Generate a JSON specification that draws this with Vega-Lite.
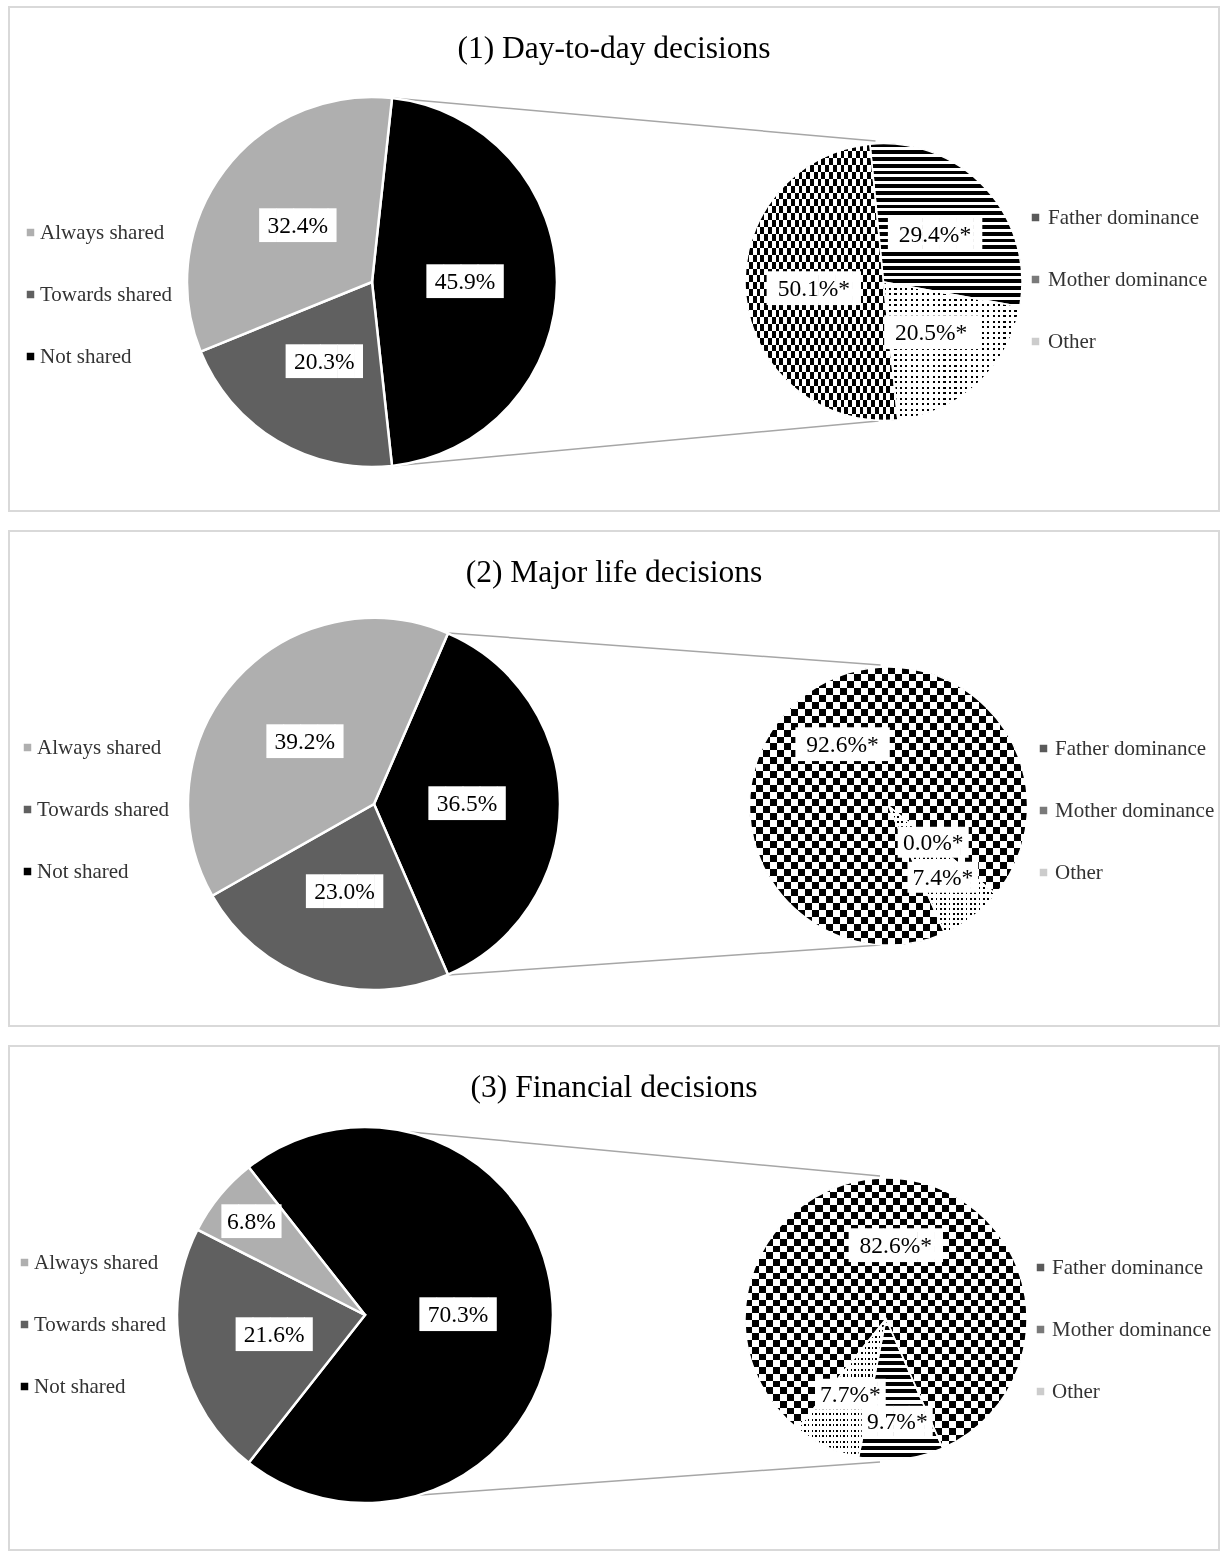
{
"$schema": "https://vega.github.io/schema/vega-lite/v6.json",
"background": "#ffffff",
"padding": {"left": 8, "top": 6, "right": 0, "bottom": 0},
"spacing": 18,
"config": {
 "view": {"stroke": "#d9d9d9", "strokeWidth": 2},
 "font": "Liberation Serif",
 "title": {"font": "Liberation Serif", "fontSize": 31.5, "fontWeight": "normal", "color": "#000000", "anchor": "middle", "frame": "group", "offset": -57, "baseline": "alphabetic"},
 "legend": {"labelFont": "Liberation Serif", "labelFontSize": 21, "labelColor": "#333333", "symbolType": "square", "symbolSize": 56, "symbolStrokeWidth": 0, "rowPadding": 40, "padding": 0, "labelOffset": 6, "labelLimit": 400},
 "style": {
  "c20V": {"color": {"gradient": "linear", "x1": 0, "y1": 0, "x2": 1, "y2": 0, "stops": [{"offset":0,"color":"#000"},{"offset":0.025,"color":"#000"},{"offset":0.025,"color":"#fff"},{"offset":0.05,"color":"#fff"},{"offset":0.05,"color":"#000"},{"offset":0.075,"color":"#000"},{"offset":0.075,"color":"#fff"},{"offset":0.1,"color":"#fff"},{"offset":0.1,"color":"#000"},{"offset":0.125,"color":"#000"},{"offset":0.125,"color":"#fff"},{"offset":0.15,"color":"#fff"},{"offset":0.15,"color":"#000"},{"offset":0.175,"color":"#000"},{"offset":0.175,"color":"#fff"},{"offset":0.2,"color":"#fff"},{"offset":0.2,"color":"#000"},{"offset":0.225,"color":"#000"},{"offset":0.225,"color":"#fff"},{"offset":0.25,"color":"#fff"},{"offset":0.25,"color":"#000"},{"offset":0.275,"color":"#000"},{"offset":0.275,"color":"#fff"},{"offset":0.3,"color":"#fff"},{"offset":0.3,"color":"#000"},{"offset":0.325,"color":"#000"},{"offset":0.325,"color":"#fff"},{"offset":0.35,"color":"#fff"},{"offset":0.35,"color":"#000"},{"offset":0.375,"color":"#000"},{"offset":0.375,"color":"#fff"},{"offset":0.4,"color":"#fff"},{"offset":0.4,"color":"#000"},{"offset":0.425,"color":"#000"},{"offset":0.425,"color":"#fff"},{"offset":0.45,"color":"#fff"},{"offset":0.45,"color":"#000"},{"offset":0.475,"color":"#000"},{"offset":0.475,"color":"#fff"},{"offset":0.5,"color":"#fff"},{"offset":0.5,"color":"#000"},{"offset":0.525,"color":"#000"},{"offset":0.525,"color":"#fff"},{"offset":0.55,"color":"#fff"},{"offset":0.55,"color":"#000"},{"offset":0.575,"color":"#000"},{"offset":0.575,"color":"#fff"},{"offset":0.6,"color":"#fff"},{"offset":0.6,"color":"#000"},{"offset":0.625,"color":"#000"},{"offset":0.625,"color":"#fff"},{"offset":0.65,"color":"#fff"},{"offset":0.65,"color":"#000"},{"offset":0.675,"color":"#000"},{"offset":0.675,"color":"#fff"},{"offset":0.7,"color":"#fff"},{"offset":0.7,"color":"#000"},{"offset":0.725,"color":"#000"},{"offset":0.725,"color":"#fff"},{"offset":0.75,"color":"#fff"},{"offset":0.75,"color":"#000"},{"offset":0.775,"color":"#000"},{"offset":0.775,"color":"#fff"},{"offset":0.8,"color":"#fff"},{"offset":0.8,"color":"#000"},{"offset":0.825,"color":"#000"},{"offset":0.825,"color":"#fff"},{"offset":0.85,"color":"#fff"},{"offset":0.85,"color":"#000"},{"offset":0.875,"color":"#000"},{"offset":0.875,"color":"#fff"},{"offset":0.9,"color":"#fff"},{"offset":0.9,"color":"#000"},{"offset":0.925,"color":"#000"},{"offset":0.925,"color":"#fff"},{"offset":0.95,"color":"#fff"},{"offset":0.95,"color":"#000"},{"offset":0.975,"color":"#000"},{"offset":0.975,"color":"#fff"},{"offset":1,"color":"#fff"}]}},
  "c20H": {"color": {"gradient": "linear", "x1": 0, "y1": 0, "x2": 0, "y2": 1, "stops": [{"offset":0,"color":"#000"},{"offset":0.025,"color":"#000"},{"offset":0.025,"color":"#fff"},{"offset":0.05,"color":"#fff"},{"offset":0.05,"color":"#000"},{"offset":0.075,"color":"#000"},{"offset":0.075,"color":"#fff"},{"offset":0.1,"color":"#fff"},{"offset":0.1,"color":"#000"},{"offset":0.125,"color":"#000"},{"offset":0.125,"color":"#fff"},{"offset":0.15,"color":"#fff"},{"offset":0.15,"color":"#000"},{"offset":0.175,"color":"#000"},{"offset":0.175,"color":"#fff"},{"offset":0.2,"color":"#fff"},{"offset":0.2,"color":"#000"},{"offset":0.225,"color":"#000"},{"offset":0.225,"color":"#fff"},{"offset":0.25,"color":"#fff"},{"offset":0.25,"color":"#000"},{"offset":0.275,"color":"#000"},{"offset":0.275,"color":"#fff"},{"offset":0.3,"color":"#fff"},{"offset":0.3,"color":"#000"},{"offset":0.325,"color":"#000"},{"offset":0.325,"color":"#fff"},{"offset":0.35,"color":"#fff"},{"offset":0.35,"color":"#000"},{"offset":0.375,"color":"#000"},{"offset":0.375,"color":"#fff"},{"offset":0.4,"color":"#fff"},{"offset":0.4,"color":"#000"},{"offset":0.425,"color":"#000"},{"offset":0.425,"color":"#fff"},{"offset":0.45,"color":"#fff"},{"offset":0.45,"color":"#000"},{"offset":0.475,"color":"#000"},{"offset":0.475,"color":"#fff"},{"offset":0.5,"color":"#fff"},{"offset":0.5,"color":"#000"},{"offset":0.525,"color":"#000"},{"offset":0.525,"color":"#fff"},{"offset":0.55,"color":"#fff"},{"offset":0.55,"color":"#000"},{"offset":0.575,"color":"#000"},{"offset":0.575,"color":"#fff"},{"offset":0.6,"color":"#fff"},{"offset":0.6,"color":"#000"},{"offset":0.625,"color":"#000"},{"offset":0.625,"color":"#fff"},{"offset":0.65,"color":"#fff"},{"offset":0.65,"color":"#000"},{"offset":0.675,"color":"#000"},{"offset":0.675,"color":"#fff"},{"offset":0.7,"color":"#fff"},{"offset":0.7,"color":"#000"},{"offset":0.725,"color":"#000"},{"offset":0.725,"color":"#fff"},{"offset":0.75,"color":"#fff"},{"offset":0.75,"color":"#000"},{"offset":0.775,"color":"#000"},{"offset":0.775,"color":"#fff"},{"offset":0.8,"color":"#fff"},{"offset":0.8,"color":"#000"},{"offset":0.825,"color":"#000"},{"offset":0.825,"color":"#fff"},{"offset":0.85,"color":"#fff"},{"offset":0.85,"color":"#000"},{"offset":0.875,"color":"#000"},{"offset":0.875,"color":"#fff"},{"offset":0.9,"color":"#fff"},{"offset":0.9,"color":"#000"},{"offset":0.925,"color":"#000"},{"offset":0.925,"color":"#fff"},{"offset":0.95,"color":"#fff"},{"offset":0.95,"color":"#000"},{"offset":0.975,"color":"#000"},{"offset":0.975,"color":"#fff"},{"offset":1,"color":"#fff"}]}},
  "s24H": {"color": {"gradient": "linear", "x1": 0, "y1": 0, "x2": 0, "y2": 1, "stops": [{"offset":0,"color":"#000"},{"offset":0.0229,"color":"#000"},{"offset":0.0229,"color":"#fff"},{"offset":0.04167,"color":"#fff"},{"offset":0.04167,"color":"#000"},{"offset":0.06457,"color":"#000"},{"offset":0.06457,"color":"#fff"},{"offset":0.08333,"color":"#fff"},{"offset":0.08333,"color":"#000"},{"offset":0.10623,"color":"#000"},{"offset":0.10623,"color":"#fff"},{"offset":0.125,"color":"#fff"},{"offset":0.125,"color":"#000"},{"offset":0.1479,"color":"#000"},{"offset":0.1479,"color":"#fff"},{"offset":0.16667,"color":"#fff"},{"offset":0.16667,"color":"#000"},{"offset":0.18957,"color":"#000"},{"offset":0.18957,"color":"#fff"},{"offset":0.20833,"color":"#fff"},{"offset":0.20833,"color":"#000"},{"offset":0.23123,"color":"#000"},{"offset":0.23123,"color":"#fff"},{"offset":0.25,"color":"#fff"},{"offset":0.25,"color":"#000"},{"offset":0.2729,"color":"#000"},{"offset":0.2729,"color":"#fff"},{"offset":0.29167,"color":"#fff"},{"offset":0.29167,"color":"#000"},{"offset":0.31457,"color":"#000"},{"offset":0.31457,"color":"#fff"},{"offset":0.33333,"color":"#fff"},{"offset":0.33333,"color":"#000"},{"offset":0.35623,"color":"#000"},{"offset":0.35623,"color":"#fff"},{"offset":0.375,"color":"#fff"},{"offset":0.375,"color":"#000"},{"offset":0.3979,"color":"#000"},{"offset":0.3979,"color":"#fff"},{"offset":0.41667,"color":"#fff"},{"offset":0.41667,"color":"#000"},{"offset":0.43957,"color":"#000"},{"offset":0.43957,"color":"#fff"},{"offset":0.45833,"color":"#fff"},{"offset":0.45833,"color":"#000"},{"offset":0.48123,"color":"#000"},{"offset":0.48123,"color":"#fff"},{"offset":0.5,"color":"#fff"},{"offset":0.5,"color":"#000"},{"offset":0.5229,"color":"#000"},{"offset":0.5229,"color":"#fff"},{"offset":0.54167,"color":"#fff"},{"offset":0.54167,"color":"#000"},{"offset":0.56457,"color":"#000"},{"offset":0.56457,"color":"#fff"},{"offset":0.58333,"color":"#fff"},{"offset":0.58333,"color":"#000"},{"offset":0.60623,"color":"#000"},{"offset":0.60623,"color":"#fff"},{"offset":0.625,"color":"#fff"},{"offset":0.625,"color":"#000"},{"offset":0.6479,"color":"#000"},{"offset":0.6479,"color":"#fff"},{"offset":0.66667,"color":"#fff"},{"offset":0.66667,"color":"#000"},{"offset":0.68957,"color":"#000"},{"offset":0.68957,"color":"#fff"},{"offset":0.70833,"color":"#fff"},{"offset":0.70833,"color":"#000"},{"offset":0.73123,"color":"#000"},{"offset":0.73123,"color":"#fff"},{"offset":0.75,"color":"#fff"},{"offset":0.75,"color":"#000"},{"offset":0.7729,"color":"#000"},{"offset":0.7729,"color":"#fff"},{"offset":0.79167,"color":"#fff"},{"offset":0.79167,"color":"#000"},{"offset":0.81457,"color":"#000"},{"offset":0.81457,"color":"#fff"},{"offset":0.83333,"color":"#fff"},{"offset":0.83333,"color":"#000"},{"offset":0.85623,"color":"#000"},{"offset":0.85623,"color":"#fff"},{"offset":0.875,"color":"#fff"},{"offset":0.875,"color":"#000"},{"offset":0.8979,"color":"#000"},{"offset":0.8979,"color":"#fff"},{"offset":0.91667,"color":"#fff"},{"offset":0.91667,"color":"#000"},{"offset":0.93957,"color":"#000"},{"offset":0.93957,"color":"#fff"},{"offset":0.95833,"color":"#fff"},{"offset":0.95833,"color":"#000"},{"offset":0.98123,"color":"#000"},{"offset":0.98123,"color":"#fff"},{"offset":1,"color":"#fff"}]}},
  "s20H": {"color": {"gradient": "linear", "x1": 0, "y1": 0, "x2": 0, "y2": 1, "stops": [{"offset":0,"color":"#000"},{"offset":0.0275,"color":"#000"},{"offset":0.0275,"color":"#fff"},{"offset":0.05,"color":"#fff"},{"offset":0.05,"color":"#000"},{"offset":0.0775,"color":"#000"},{"offset":0.0775,"color":"#fff"},{"offset":0.1,"color":"#fff"},{"offset":0.1,"color":"#000"},{"offset":0.1275,"color":"#000"},{"offset":0.1275,"color":"#fff"},{"offset":0.15,"color":"#fff"},{"offset":0.15,"color":"#000"},{"offset":0.1775,"color":"#000"},{"offset":0.1775,"color":"#fff"},{"offset":0.2,"color":"#fff"},{"offset":0.2,"color":"#000"},{"offset":0.2275,"color":"#000"},{"offset":0.2275,"color":"#fff"},{"offset":0.25,"color":"#fff"},{"offset":0.25,"color":"#000"},{"offset":0.2775,"color":"#000"},{"offset":0.2775,"color":"#fff"},{"offset":0.3,"color":"#fff"},{"offset":0.3,"color":"#000"},{"offset":0.3275,"color":"#000"},{"offset":0.3275,"color":"#fff"},{"offset":0.35,"color":"#fff"},{"offset":0.35,"color":"#000"},{"offset":0.3775,"color":"#000"},{"offset":0.3775,"color":"#fff"},{"offset":0.4,"color":"#fff"},{"offset":0.4,"color":"#000"},{"offset":0.4275,"color":"#000"},{"offset":0.4275,"color":"#fff"},{"offset":0.45,"color":"#fff"},{"offset":0.45,"color":"#000"},{"offset":0.4775,"color":"#000"},{"offset":0.4775,"color":"#fff"},{"offset":0.5,"color":"#fff"},{"offset":0.5,"color":"#000"},{"offset":0.5275,"color":"#000"},{"offset":0.5275,"color":"#fff"},{"offset":0.55,"color":"#fff"},{"offset":0.55,"color":"#000"},{"offset":0.5775,"color":"#000"},{"offset":0.5775,"color":"#fff"},{"offset":0.6,"color":"#fff"},{"offset":0.6,"color":"#000"},{"offset":0.6275,"color":"#000"},{"offset":0.6275,"color":"#fff"},{"offset":0.65,"color":"#fff"},{"offset":0.65,"color":"#000"},{"offset":0.6775,"color":"#000"},{"offset":0.6775,"color":"#fff"},{"offset":0.7,"color":"#fff"},{"offset":0.7,"color":"#000"},{"offset":0.7275,"color":"#000"},{"offset":0.7275,"color":"#fff"},{"offset":0.75,"color":"#fff"},{"offset":0.75,"color":"#000"},{"offset":0.7775,"color":"#000"},{"offset":0.7775,"color":"#fff"},{"offset":0.8,"color":"#fff"},{"offset":0.8,"color":"#000"},{"offset":0.8275,"color":"#000"},{"offset":0.8275,"color":"#fff"},{"offset":0.85,"color":"#fff"},{"offset":0.85,"color":"#000"},{"offset":0.8775,"color":"#000"},{"offset":0.8775,"color":"#fff"},{"offset":0.9,"color":"#fff"},{"offset":0.9,"color":"#000"},{"offset":0.9275,"color":"#000"},{"offset":0.9275,"color":"#fff"},{"offset":0.95,"color":"#fff"},{"offset":0.95,"color":"#000"},{"offset":0.9775,"color":"#000"},{"offset":0.9775,"color":"#fff"},{"offset":1,"color":"#fff"}]}},
  "d25V": {"color": {"gradient": "linear", "x1": 0, "y1": 0, "x2": 1, "y2": 0, "stops": [{"offset":0,"color":"#000"},{"offset":0.016,"color":"#000"},{"offset":0.016,"color":"#fff"},{"offset":0.04,"color":"#fff"},{"offset":0.04,"color":"#000"},{"offset":0.056,"color":"#000"},{"offset":0.056,"color":"#fff"},{"offset":0.08,"color":"#fff"},{"offset":0.08,"color":"#000"},{"offset":0.096,"color":"#000"},{"offset":0.096,"color":"#fff"},{"offset":0.12,"color":"#fff"},{"offset":0.12,"color":"#000"},{"offset":0.136,"color":"#000"},{"offset":0.136,"color":"#fff"},{"offset":0.16,"color":"#fff"},{"offset":0.16,"color":"#000"},{"offset":0.176,"color":"#000"},{"offset":0.176,"color":"#fff"},{"offset":0.2,"color":"#fff"},{"offset":0.2,"color":"#000"},{"offset":0.216,"color":"#000"},{"offset":0.216,"color":"#fff"},{"offset":0.24,"color":"#fff"},{"offset":0.24,"color":"#000"},{"offset":0.256,"color":"#000"},{"offset":0.256,"color":"#fff"},{"offset":0.28,"color":"#fff"},{"offset":0.28,"color":"#000"},{"offset":0.296,"color":"#000"},{"offset":0.296,"color":"#fff"},{"offset":0.32,"color":"#fff"},{"offset":0.32,"color":"#000"},{"offset":0.336,"color":"#000"},{"offset":0.336,"color":"#fff"},{"offset":0.36,"color":"#fff"},{"offset":0.36,"color":"#000"},{"offset":0.376,"color":"#000"},{"offset":0.376,"color":"#fff"},{"offset":0.4,"color":"#fff"},{"offset":0.4,"color":"#000"},{"offset":0.416,"color":"#000"},{"offset":0.416,"color":"#fff"},{"offset":0.44,"color":"#fff"},{"offset":0.44,"color":"#000"},{"offset":0.456,"color":"#000"},{"offset":0.456,"color":"#fff"},{"offset":0.48,"color":"#fff"},{"offset":0.48,"color":"#000"},{"offset":0.496,"color":"#000"},{"offset":0.496,"color":"#fff"},{"offset":0.52,"color":"#fff"},{"offset":0.52,"color":"#000"},{"offset":0.536,"color":"#000"},{"offset":0.536,"color":"#fff"},{"offset":0.56,"color":"#fff"},{"offset":0.56,"color":"#000"},{"offset":0.576,"color":"#000"},{"offset":0.576,"color":"#fff"},{"offset":0.6,"color":"#fff"},{"offset":0.6,"color":"#000"},{"offset":0.616,"color":"#000"},{"offset":0.616,"color":"#fff"},{"offset":0.64,"color":"#fff"},{"offset":0.64,"color":"#000"},{"offset":0.656,"color":"#000"},{"offset":0.656,"color":"#fff"},{"offset":0.68,"color":"#fff"},{"offset":0.68,"color":"#000"},{"offset":0.696,"color":"#000"},{"offset":0.696,"color":"#fff"},{"offset":0.72,"color":"#fff"},{"offset":0.72,"color":"#000"},{"offset":0.736,"color":"#000"},{"offset":0.736,"color":"#fff"},{"offset":0.76,"color":"#fff"},{"offset":0.76,"color":"#000"},{"offset":0.776,"color":"#000"},{"offset":0.776,"color":"#fff"},{"offset":0.8,"color":"#fff"},{"offset":0.8,"color":"#000"},{"offset":0.816,"color":"#000"},{"offset":0.816,"color":"#fff"},{"offset":0.84,"color":"#fff"},{"offset":0.84,"color":"#000"},{"offset":0.856,"color":"#000"},{"offset":0.856,"color":"#fff"},{"offset":0.88,"color":"#fff"},{"offset":0.88,"color":"#000"},{"offset":0.896,"color":"#000"},{"offset":0.896,"color":"#fff"},{"offset":0.92,"color":"#fff"},{"offset":0.92,"color":"#000"},{"offset":0.936,"color":"#000"},{"offset":0.936,"color":"#fff"},{"offset":0.96,"color":"#fff"},{"offset":0.96,"color":"#000"},{"offset":0.976,"color":"#000"},{"offset":0.976,"color":"#fff"},{"offset":1,"color":"#fff"}]}},
  "d25H": {"color": {"gradient": "linear", "x1": 0, "y1": 0, "x2": 0, "y2": 1, "stops": [{"offset":0,"color":"#000"},{"offset":0.016,"color":"#000"},{"offset":0.016,"color":"#fff"},{"offset":0.04,"color":"#fff"},{"offset":0.04,"color":"#000"},{"offset":0.056,"color":"#000"},{"offset":0.056,"color":"#fff"},{"offset":0.08,"color":"#fff"},{"offset":0.08,"color":"#000"},{"offset":0.096,"color":"#000"},{"offset":0.096,"color":"#fff"},{"offset":0.12,"color":"#fff"},{"offset":0.12,"color":"#000"},{"offset":0.136,"color":"#000"},{"offset":0.136,"color":"#fff"},{"offset":0.16,"color":"#fff"},{"offset":0.16,"color":"#000"},{"offset":0.176,"color":"#000"},{"offset":0.176,"color":"#fff"},{"offset":0.2,"color":"#fff"},{"offset":0.2,"color":"#000"},{"offset":0.216,"color":"#000"},{"offset":0.216,"color":"#fff"},{"offset":0.24,"color":"#fff"},{"offset":0.24,"color":"#000"},{"offset":0.256,"color":"#000"},{"offset":0.256,"color":"#fff"},{"offset":0.28,"color":"#fff"},{"offset":0.28,"color":"#000"},{"offset":0.296,"color":"#000"},{"offset":0.296,"color":"#fff"},{"offset":0.32,"color":"#fff"},{"offset":0.32,"color":"#000"},{"offset":0.336,"color":"#000"},{"offset":0.336,"color":"#fff"},{"offset":0.36,"color":"#fff"},{"offset":0.36,"color":"#000"},{"offset":0.376,"color":"#000"},{"offset":0.376,"color":"#fff"},{"offset":0.4,"color":"#fff"},{"offset":0.4,"color":"#000"},{"offset":0.416,"color":"#000"},{"offset":0.416,"color":"#fff"},{"offset":0.44,"color":"#fff"},{"offset":0.44,"color":"#000"},{"offset":0.456,"color":"#000"},{"offset":0.456,"color":"#fff"},{"offset":0.48,"color":"#fff"},{"offset":0.48,"color":"#000"},{"offset":0.496,"color":"#000"},{"offset":0.496,"color":"#fff"},{"offset":0.52,"color":"#fff"},{"offset":0.52,"color":"#000"},{"offset":0.536,"color":"#000"},{"offset":0.536,"color":"#fff"},{"offset":0.56,"color":"#fff"},{"offset":0.56,"color":"#000"},{"offset":0.576,"color":"#000"},{"offset":0.576,"color":"#fff"},{"offset":0.6,"color":"#fff"},{"offset":0.6,"color":"#000"},{"offset":0.616,"color":"#000"},{"offset":0.616,"color":"#fff"},{"offset":0.64,"color":"#fff"},{"offset":0.64,"color":"#000"},{"offset":0.656,"color":"#000"},{"offset":0.656,"color":"#fff"},{"offset":0.68,"color":"#fff"},{"offset":0.68,"color":"#000"},{"offset":0.696,"color":"#000"},{"offset":0.696,"color":"#fff"},{"offset":0.72,"color":"#fff"},{"offset":0.72,"color":"#000"},{"offset":0.736,"color":"#000"},{"offset":0.736,"color":"#fff"},{"offset":0.76,"color":"#fff"},{"offset":0.76,"color":"#000"},{"offset":0.776,"color":"#000"},{"offset":0.776,"color":"#fff"},{"offset":0.8,"color":"#fff"},{"offset":0.8,"color":"#000"},{"offset":0.816,"color":"#000"},{"offset":0.816,"color":"#fff"},{"offset":0.84,"color":"#fff"},{"offset":0.84,"color":"#000"},{"offset":0.856,"color":"#000"},{"offset":0.856,"color":"#fff"},{"offset":0.88,"color":"#fff"},{"offset":0.88,"color":"#000"},{"offset":0.896,"color":"#000"},{"offset":0.896,"color":"#fff"},{"offset":0.92,"color":"#fff"},{"offset":0.92,"color":"#000"},{"offset":0.936,"color":"#000"},{"offset":0.936,"color":"#fff"},{"offset":0.96,"color":"#fff"},{"offset":0.96,"color":"#000"},{"offset":0.976,"color":"#000"},{"offset":0.976,"color":"#fff"},{"offset":1,"color":"#fff"}]}}
 }
},
"vconcat": [
 {
  "width": 1210, "height": 504,
  "title": {"text": "(1) Day-to-day decisions"},
  "resolve": {"scale": {"theta": "independent", "color": "independent"}},
  "layer": [
   {"data": {"values": [{"link": "top"}]},
    "mark": {"type": "rule", "color": "#a6a6a6", "strokeWidth": 1.5, "xOffset": 20, "yOffset": -184, "x2Offset": -8, "y2Offset": -141},
    "encoding": {
     "x": {"datum": "main", "type": "nominal", "scale": {"type": "point", "domain": ["main", "detail"], "range": [363, 874.5], "padding": 0}, "axis": null},
     "x2": {"datum": "detail"},
     "y": {"datum": "main", "type": "nominal", "scale": {"type": "point", "domain": ["main", "detail"], "range": [275, 275], "padding": 0}, "axis": null},
     "y2": {"datum": "detail"}}},
   {"data": {"values": [{"link": "bottom"}]},
    "mark": {"type": "rule", "color": "#a6a6a6", "strokeWidth": 1.5, "xOffset": 20, "yOffset": 184, "x2Offset": -5, "y2Offset": 139},
    "encoding": {
     "x": {"datum": "main", "type": "nominal", "axis": null},
     "x2": {"datum": "detail"},
     "y": {"datum": "main", "type": "nominal", "axis": null},
     "y2": {"datum": "detail"}}},
   {"data": {"values": [
     {"cat": "Not shared", "value": 45.9, "label": "45.9%", "ord": 1},
     {"cat": "Towards shared", "value": 20.3, "label": "20.3%", "ord": 2},
     {"cat": "Always shared", "value": 32.4, "label": "32.4%", "ord": 3}]},
    "encoding": {
     "x": {"datum": "main", "type": "nominal", "axis": null},
     "y": {"datum": "main", "type": "nominal", "axis": null},
     "theta": {"field": "value", "type": "quantitative", "stack": "normalize", "scale": {"range": [0.1084, 6.3916]}},
     "order": {"field": "ord", "type": "quantitative"}},
    "layer": [
     {"mark": {"type": "arc", "radius": 185, "stroke": "#ffffff", "strokeWidth": 2.5},
      "encoding": {"color": {"field": "cat", "type": "nominal", "scale": {"domain": ["Always shared", "Towards shared", "Not shared"], "range": ["#afafaf", "#606060", "#000000"]}, "legend": {"orient": "none", "legendX": 11, "legendY": 215, "title": null, "labelOffset": -1}}}},
     {"mark": {"type": "text", "radius": 93, "font": "DejaVu Sans Mono", "fontSize": 28.4, "color": "#ffffff", "dx": 4.3},
      "encoding": {"text": {"condition": {"test": "datum.value < 10", "value": "███▌"}, "value": "████▌"}}},
     {"mark": {"type": "text", "radius": 93, "font": "Liberation Serif", "fontSize": 23.5, "color": "#000000"},
      "encoding": {"text": {"field": "label", "type": "nominal"}}}
    ]},
   {"data": {"values": [
     {"sub": "Mother dominance", "value": 29.4, "label": "29.4%*", "ord": 1},
     {"sub": "Other", "value": 20.5, "label": "20.5%*", "ord": 2},
     {"sub": "Father dominance", "value": 50.1, "label": "50.1%*", "ord": 3}]},
    "encoding": {
     "x": {"datum": "detail", "type": "nominal", "axis": null},
     "y": {"datum": "detail", "type": "nominal", "axis": null},
     "theta": {"field": "value", "type": "quantitative", "stack": "normalize", "scale": {"range": [-0.0977, 6.1855]}},
     "order": {"field": "ord", "type": "quantitative"}},
    "layer": [
     {"mark": {"type": "arc", "radius": 138.5},
      "encoding": {"color": {"field": "sub", "type": "nominal", "scale": {"domain": ["Father dominance", "Mother dominance", "Other"], "range": ["#5a5a5a", "#7a7a7a", "#cccccc"]}, "legend": {"orient": "none", "legendX": 1016, "legendY": 200, "title": null, "labelOffset": 2}}}},
     {"mark": {"type": "arc", "radius": 138.5, "style": "c20V"}, "encoding": {"fillOpacity": {"condition": {"test": "datum.sub === 'Father dominance'", "value": 1}, "value": 0}}},
     {"mark": {"type": "arc", "radius": 138.5, "style": "c20H", "blend": "difference"}, "encoding": {"fillOpacity": {"condition": {"test": "datum.sub === 'Father dominance'", "value": 1}, "value": 0}}},
     {"mark": {"type": "arc", "radius": 138.5, "style": "s24H"}, "encoding": {"fillOpacity": {"condition": {"test": "datum.sub === 'Mother dominance'", "value": 1}, "value": 0}}},
     {"mark": {"type": "arc", "radius": 138.5, "style": "d25V"}, "encoding": {"fillOpacity": {"condition": {"test": "datum.sub === 'Other'", "value": 1}, "value": 0}}},
     {"mark": {"type": "arc", "radius": 138.5, "style": "d25H", "blend": "screen"}, "encoding": {"fillOpacity": {"condition": {"test": "datum.sub === 'Other'", "value": 1}, "value": 0}}},
     {"mark": {"type": "arc", "radius": 138.5, "fill": "transparent", "stroke": "#ffffff", "strokeWidth": 1.5}},
     {"mark": {"type": "text", "radius": 70, "font": "DejaVu Sans Mono", "fontSize": 28.4, "color": "#ffffff", "dx": 4.3},
      "encoding": {"text": {"condition": {"test": "datum.value < 10", "value": "████▌"}, "value": "█████▌"}}},
     {"mark": {"type": "text", "radius": 70, "font": "Liberation Serif", "fontSize": 23.5, "color": "#000000"},
      "encoding": {"text": {"field": "label", "type": "nominal"}}}
    ]}
  ]
 },
 {
  "width": 1210, "height": 495,
  "title": {"text": "(2) Major life decisions"},
  "resolve": {"scale": {"theta": "independent", "color": "independent"}},
  "layer": [
   {"data": {"values": [{"link": "top"}]},
    "mark": {"type": "rule", "color": "#a6a6a6", "strokeWidth": 1.5, "xOffset": 74, "yOffset": -171, "x2Offset": -8, "y2Offset": -141},
    "encoding": {
     "x": {"datum": "main", "type": "nominal", "scale": {"type": "point", "domain": ["main", "detail"], "range": [365, 879.5], "padding": 0}, "axis": null},
     "x2": {"datum": "detail"},
     "y": {"datum": "main", "type": "nominal", "scale": {"type": "point", "domain": ["main", "detail"], "range": [273, 275], "padding": 0}, "axis": null},
     "y2": {"datum": "detail"}}},
   {"data": {"values": [{"link": "bottom"}]},
    "mark": {"type": "rule", "color": "#a6a6a6", "strokeWidth": 1.5, "xOffset": 74, "yOffset": 171, "x2Offset": -8, "y2Offset": 139},
    "encoding": {
     "x": {"datum": "main", "type": "nominal", "axis": null},
     "x2": {"datum": "detail"},
     "y": {"datum": "main", "type": "nominal", "axis": null},
     "y2": {"datum": "detail"}}},
   {"data": {"values": [
     {"cat": "Not shared", "value": 36.5, "label": "36.5%", "ord": 1},
     {"cat": "Towards shared", "value": 23.0, "label": "23.0%", "ord": 2},
     {"cat": "Always shared", "value": 39.2, "label": "39.2%", "ord": 3}]},
    "encoding": {
     "x": {"datum": "main", "type": "nominal", "axis": null},
     "y": {"datum": "main", "type": "nominal", "axis": null},
     "theta": {"field": "value", "type": "quantitative", "stack": "normalize", "scale": {"range": [0.409, 6.6922]}},
     "order": {"field": "ord", "type": "quantitative"}},
    "layer": [
     {"mark": {"type": "arc", "radius": 186, "stroke": "#ffffff", "strokeWidth": 2.5},
      "encoding": {"color": {"field": "cat", "type": "nominal", "scale": {"domain": ["Always shared", "Towards shared", "Not shared"], "range": ["#afafaf", "#606060", "#000000"]}, "legend": {"orient": "none", "legendX": 8, "legendY": 206, "title": null, "labelOffset": -1}}}},
     {"mark": {"type": "text", "radius": 93, "font": "DejaVu Sans Mono", "fontSize": 28.4, "color": "#ffffff", "dx": 4.3},
      "encoding": {"text": {"condition": {"test": "datum.value < 10", "value": "███▌"}, "value": "████▌"}}},
     {"mark": {"type": "text", "radius": 93, "font": "Liberation Serif", "fontSize": 23.5, "color": "#000000"},
      "encoding": {"text": {"field": "label", "type": "nominal"}}}
    ]},
   {"data": {"values": [
     {"sub": "Mother dominance", "value": 0.0, "label": "0.0%*", "ord": 1},
     {"sub": "Other", "value": 7.4, "label": "7.4%*", "ord": 2},
     {"sub": "Father dominance", "value": 92.6, "label": "92.6%*", "ord": 3}]},
    "encoding": {
     "x": {"datum": "detail", "type": "nominal", "axis": null},
     "y": {"datum": "detail", "type": "nominal", "axis": null},
     "theta": {"field": "value", "type": "quantitative", "stack": "normalize", "scale": {"range": [2.2602, 8.5434]}},
     "order": {"field": "ord", "type": "quantitative"}},
    "layer": [
     {"mark": {"type": "arc", "radius": 139},
      "encoding": {"color": {"field": "sub", "type": "nominal", "scale": {"domain": ["Father dominance", "Mother dominance", "Other"], "range": ["#5a5a5a", "#7a7a7a", "#cccccc"]}, "legend": {"orient": "none", "legendX": 1024, "legendY": 207, "title": null, "labelOffset": 1}}}},
     {"mark": {"type": "arc", "radius": 139, "style": "c20V"}, "encoding": {"fillOpacity": {"condition": {"test": "datum.sub === 'Father dominance'", "value": 1}, "value": 0}}},
     {"mark": {"type": "arc", "radius": 139, "style": "c20H", "blend": "difference"}, "encoding": {"fillOpacity": {"condition": {"test": "datum.sub === 'Father dominance'", "value": 1}, "value": 0}}},
     {"mark": {"type": "arc", "radius": 139, "style": "d25V"}, "encoding": {"fillOpacity": {"condition": {"test": "datum.sub === 'Other'", "value": 1}, "value": 0}}},
     {"mark": {"type": "arc", "radius": 139, "style": "d25H", "blend": "screen"}, "encoding": {"fillOpacity": {"condition": {"test": "datum.sub === 'Other'", "value": 1}, "value": 0}}},
     {"mark": {"type": "arc", "radius": 139, "fill": "transparent", "stroke": "#ffffff", "strokeWidth": 1.5}},
     {"mark": {"type": "text", "radius": 76, "font": "DejaVu Sans Mono", "fontSize": 28.4, "color": "#ffffff", "dx": 4.3},
      "encoding": {"text": {"condition": {"test": "datum.sub === 'Father dominance'", "value": "█████▌"}, "value": ""}}},
     {"mark": {"type": "text", "radius": 58, "font": "DejaVu Sans Mono", "fontSize": 26, "color": "#ffffff", "dx": 3.9},
      "encoding": {"text": {"condition": {"test": "datum.sub === 'Mother dominance'", "value": "████▌"}, "value": ""}}},
     {"mark": {"type": "text", "radius": 90, "font": "DejaVu Sans Mono", "fontSize": 26, "color": "#ffffff", "dx": 3.9},
      "encoding": {"text": {"condition": {"test": "datum.sub === 'Other'", "value": "████▌"}, "value": ""}}},
     {"mark": {"type": "text", "radius": 76, "font": "Liberation Serif", "fontSize": 23.5, "color": "#000000"},
      "encoding": {"text": {"condition": {"test": "datum.sub === 'Father dominance'", "field": "label", "type": "nominal"}, "value": ""}}},
     {"mark": {"type": "text", "radius": 58, "font": "Liberation Serif", "fontSize": 23.5, "color": "#000000"},
      "encoding": {"text": {"condition": {"test": "datum.sub === 'Mother dominance'", "field": "label", "type": "nominal"}, "value": ""}}},
     {"mark": {"type": "text", "radius": 90, "font": "Liberation Serif", "fontSize": 23.5, "color": "#000000"},
      "encoding": {"text": {"condition": {"test": "datum.sub === 'Other'", "field": "label", "type": "nominal"}, "value": ""}}}
    ]}
  ]
 },
 {
  "width": 1210, "height": 504,
  "title": {"text": "(3) Financial decisions"},
  "resolve": {"scale": {"theta": "independent", "color": "independent"}},
  "layer": [
   {"data": {"values": [{"link": "top"}]},
    "mark": {"type": "rule", "color": "#a6a6a6", "strokeWidth": 1.5, "xOffset": 45, "yOffset": -183, "x2Offset": -6, "y2Offset": -143},
    "encoding": {
     "x": {"datum": "main", "type": "nominal", "scale": {"type": "point", "domain": ["main", "detail"], "range": [356, 877], "padding": 0}, "axis": null},
     "x2": {"datum": "detail"},
     "y": {"datum": "main", "type": "nominal", "scale": {"type": "point", "domain": ["main", "detail"], "range": [269, 273], "padding": 0}, "axis": null},
     "y2": {"datum": "detail"}}},
   {"data": {"values": [{"link": "bottom"}]},
    "mark": {"type": "rule", "color": "#a6a6a6", "strokeWidth": 1.5, "xOffset": 55, "yOffset": 180, "x2Offset": -6, "y2Offset": 143},
    "encoding": {
     "x": {"datum": "main", "type": "nominal", "axis": null},
     "x2": {"datum": "detail"},
     "y": {"datum": "main", "type": "nominal", "axis": null},
     "y2": {"datum": "detail"}}},
   {"data": {"values": [
     {"cat": "Not shared", "value": 70.3, "label": "70.3%", "ord": 1},
     {"cat": "Towards shared", "value": 21.6, "label": "21.6%", "ord": 2},
     {"cat": "Always shared", "value": 6.8, "label": "6.8%", "ord": 3}]},
    "encoding": {
     "x": {"datum": "main", "type": "nominal", "axis": null},
     "y": {"datum": "main", "type": "nominal", "axis": null},
     "theta": {"field": "value", "type": "quantitative", "stack": "normalize", "scale": {"range": [-0.6669, 5.6163]}},
     "order": {"field": "ord", "type": "quantitative"}},
    "layer": [
     {"mark": {"type": "arc", "radius": 188, "stroke": "#ffffff", "strokeWidth": 2.5},
      "encoding": {"color": {"field": "cat", "type": "nominal", "scale": {"domain": ["Always shared", "Towards shared", "Not shared"], "range": ["#afafaf", "#606060", "#000000"]}, "legend": {"orient": "none", "legendX": 5, "legendY": 206, "title": null, "labelOffset": -1}}}},
     {"mark": {"type": "text", "radius": 93, "font": "DejaVu Sans Mono", "fontSize": 28.4, "color": "#ffffff", "dx": 4.3},
      "encoding": {"text": {"condition": {"test": "datum.cat !== 'Always shared'", "value": "████▌"}, "value": ""}}},
     {"mark": {"type": "text", "radius": 147, "font": "DejaVu Sans Mono", "fontSize": 28.4, "color": "#ffffff", "dx": 4.3},
      "encoding": {"text": {"condition": {"test": "datum.cat === 'Always shared'", "value": "███▌"}, "value": ""}}},
     {"mark": {"type": "text", "radius": 93, "font": "Liberation Serif", "fontSize": 23.5, "color": "#000000"},
      "encoding": {"text": {"condition": {"test": "datum.cat !== 'Always shared'", "field": "label", "type": "nominal"}, "value": ""}}},
     {"mark": {"type": "text", "radius": 147, "font": "Liberation Serif", "fontSize": 23.5, "color": "#000000"},
      "encoding": {"text": {"condition": {"test": "datum.cat === 'Always shared'", "field": "label", "type": "nominal"}, "value": ""}}}
    ]},
   {"data": {"values": [
     {"sub": "Mother dominance", "value": 9.7, "label": "9.7%*", "ord": 1},
     {"sub": "Other", "value": 7.7, "label": "7.7%*", "ord": 2},
     {"sub": "Father dominance", "value": 82.6, "label": "82.6%*", "ord": 3}]},
    "encoding": {
     "x": {"datum": "detail", "type": "nominal", "axis": null},
     "y": {"datum": "detail", "type": "nominal", "axis": null},
     "theta": {"field": "value", "type": "quantitative", "stack": "normalize", "scale": {"range": [2.7279, 9.0111]}},
     "order": {"field": "ord", "type": "quantitative"}},
    "layer": [
     {"mark": {"type": "arc", "radius": 141},
      "encoding": {"color": {"field": "sub", "type": "nominal", "scale": {"domain": ["Father dominance", "Mother dominance", "Other"], "range": ["#5a5a5a", "#7a7a7a", "#cccccc"]}, "legend": {"orient": "none", "legendX": 1021, "legendY": 211, "title": null, "labelOffset": 1}}}},
     {"mark": {"type": "arc", "radius": 141, "style": "c20V"}, "encoding": {"fillOpacity": {"condition": {"test": "datum.sub === 'Father dominance'", "value": 1}, "value": 0}}},
     {"mark": {"type": "arc", "radius": 141, "style": "c20H", "blend": "difference"}, "encoding": {"fillOpacity": {"condition": {"test": "datum.sub === 'Father dominance'", "value": 1}, "value": 0}}},
     {"mark": {"type": "arc", "radius": 141, "style": "s20H"}, "encoding": {"fillOpacity": {"condition": {"test": "datum.sub === 'Mother dominance'", "value": 1}, "value": 0}}},
     {"mark": {"type": "arc", "radius": 141, "style": "d25V"}, "encoding": {"fillOpacity": {"condition": {"test": "datum.sub === 'Other'", "value": 1}, "value": 0}}},
     {"mark": {"type": "arc", "radius": 141, "style": "d25H", "blend": "screen"}, "encoding": {"fillOpacity": {"condition": {"test": "datum.sub === 'Other'", "value": 1}, "value": 0}}},
     {"mark": {"type": "arc", "radius": 141, "fill": "transparent", "stroke": "#ffffff", "strokeWidth": 1.5}},
     {"mark": {"type": "text", "radius": 74, "font": "DejaVu Sans Mono", "fontSize": 28.4, "color": "#ffffff", "dx": 4.3},
      "encoding": {"text": {"condition": {"test": "datum.sub === 'Father dominance'", "value": "█████▌"}, "value": ""}}},
     {"mark": {"type": "text", "radius": 104, "font": "DejaVu Sans Mono", "fontSize": 26, "color": "#ffffff", "dx": 3.9},
      "encoding": {"text": {"condition": {"test": "datum.sub === 'Mother dominance'", "value": "████▌"}, "value": ""}}},
     {"mark": {"type": "text", "radius": 84, "font": "DejaVu Sans Mono", "fontSize": 26, "color": "#ffffff", "dx": 3.9},
      "encoding": {"text": {"condition": {"test": "datum.sub === 'Other'", "value": "████▌"}, "value": ""}}},
     {"mark": {"type": "text", "radius": 74, "font": "Liberation Serif", "fontSize": 23.5, "color": "#000000"},
      "encoding": {"text": {"condition": {"test": "datum.sub === 'Father dominance'", "field": "label", "type": "nominal"}, "value": ""}}},
     {"mark": {"type": "text", "radius": 104, "font": "Liberation Serif", "fontSize": 23.5, "color": "#000000"},
      "encoding": {"text": {"condition": {"test": "datum.sub === 'Mother dominance'", "field": "label", "type": "nominal"}, "value": ""}}},
     {"mark": {"type": "text", "radius": 84, "font": "Liberation Serif", "fontSize": 23.5, "color": "#000000"},
      "encoding": {"text": {"condition": {"test": "datum.sub === 'Other'", "field": "label", "type": "nominal"}, "value": ""}}}
    ]}
  ]
 }
]
}
